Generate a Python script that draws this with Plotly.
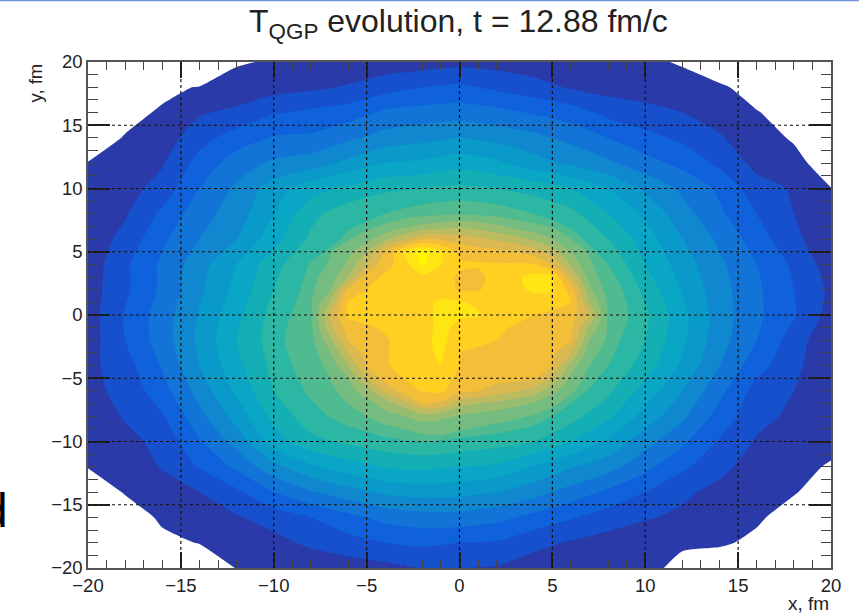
import plotly.graph_objects as go

x_fm = [-20,-18,-16,-14,-12,-10,-8,-6,-4,-2,0,2,4,6,8,10,12,14,16,18,20]
y_fm = [20,18,16,14,12,10,8,6,4,2,0,-2,-4,-6,-8,-10,-12,-14,-16,-18,-20]
# temperature band index; negative = no QGP (white)
t_qgp = [
[-3,-3,-3,-3,-.1,.1,.2,.3,.4,.5,.7,.6,.4,.3,.2,.1,-.05,-1.5,-3,-3,-3],
[-2.5,-1.7,-.4,.1,.4,.6,.8,1.1,1.6,2.0,2.2,1.8,1.4,.9,.6,.4,.2,.3,-.8,-2,-3],
[-1.6,-.5,.2,.9,1.2,1.9,2.2,2.5,3.2,3.4,3.5,3.3,2.9,2.5,1.7,1.4,1.0,.6,.1,-.8,-1.8],
[-.8,.1,.5,1.6,2.5,3.1,3.2,3.8,4.4,4.7,5.0,4.7,4.3,3.7,3.0,2.3,1.8,1.1,.4,-.1,-1.0],
[.05,.4,.9,2.4,3.5,4.2,4.5,5.3,6.0,6.2,6.6,6.2,5.4,4.8,4.2,3.4,2.7,1.8,.7,.3,-.5],
[.2,.6,1.4,3.0,4.2,5.5,6.6,7.2,7.8,8,8.2,8,7.6,7,6.0,4.8,3.8,2.8,1.4,.9,.02],
[.3,.9,2.2,3.6,4.5,6,7.7,8.6,9.0,9.6,9.9,9.6,9.0,8.3,7,5.8,4.4,3.2,2,1,.2],
[.4,1.3,2.8,4,5,6.6,8.2,9.2,11,12.5,12,11.5,10.8,9.5,8,6.5,5,3.8,2.5,1.2,.4],
[.4,1.8,3.2,4.6,6,7.6,9.1,10.6,12.8,16.5,15.3,15.2,14.7,12.2,9,7,5.5,4.2,3,1.8,.5],
[.5,1.8,3.2,4.8,6.3,8,9.4,12,14.7,15.4,15.5,15.4,16,14,9.8,7.7,5.9,4.4,3.2,2,.8],
[.5,2.1,3.5,5.1,6.7,8.4,9.7,13.5,14.9,15.5,16.5,15.5,15.3,13.5,10,8.2,6.3,4.5,3.2,2.1,.6],
[.5,2,3.5,5.2,7,8.5,10.2,12.7,14.7,15.7,15,14.8,14.5,12.5,9.5,8,6.2,4.4,3,1.5,.2],
[.7,1.6,3.1,5,6.7,8.3,9.7,11.5,14,15.3,14.6,14.4,14,11.2,9,7.5,5.8,4,2.4,1.3,.1],
[.7,1.3,2.6,4.4,6.2,8,9.2,10.8,12.3,14.9,13.2,13,12,9.6,8.2,6.6,5,3.3,1.6,1.0,.1],
[.3,1.1,1.9,3.7,5.4,7.3,8.6,9.5,10.7,11.7,10.8,10.3,9.6,8.4,7.2,5.6,4.2,2.6,1.3,.8,.1],
[.1,.7,1.3,2.9,4.4,6.5,7.7,8.2,8.6,9,8.7,8.4,8,7,5.8,4.4,3.2,1.9,.9,.4,.3],
[.05,.2,1.1,2.1,3.2,4.7,5.8,6.5,7.1,7.2,7,6.8,5.9,5.1,4.4,3.3,2.2,1.3,.5,.3,-.1],
[-.9,.1,.4,1.0,1.8,3,3.9,4.6,5.2,5.4,5.3,5,4.4,3.6,2.8,2,1.2,.7,.3,.1,-.7],
[-1.8,-.7,.2,.4,.9,1.4,2,2.7,3.3,3.6,3.6,3.3,2.7,2.1,1.5,1.1,.8,.3,.2,-.6,-1.6],
[-3,-1.8,-.3,.05,.3,.7,1.2,1.6,2,2.2,2.0,1.9,1.3,.9,.6,.3,.1,.2,-.3,-2,-3],
[-3,-3,-3,-1,.05,.1,.3,.5,.7,1.0,1.0,.9,.5,.3,.2,.2,-.2,-1,-3,-3,-3],
]
# finer reading of the hot core, 1 fm apart
x_core = [-8,-7,-6,-5,-4,-3,-2,-1,0,1,2,3,4,5,6,7,8]
y_core = [8,7,6,5,4,3,2,1,0,-1,-2,-3,-4,-5,-6,-7,-8,-9,-10]
t_core = [
[8.2,8.5,8.8,9.1,9.3,9.5,9.7,9.8,9.9,9.8,9.7,9.4,9.1,8.8,8.5,8,7.6],
[8.6,9,9.3,9.7,10.2,10.8,11.3,11.6,11.8,11.6,11.2,10.7,10.3,9.9,9.4,9,8.5],
[9,9.4,9.9,10.7,11.8,12.8,13.9,13.9,13.6,13.2,12.8,12.4,11.8,11,10,9.4,8.8],
[9.3,9.9,10.7,12,14.1,16.1,17.4,16.2,14.7,14.5,14.3,14,13.5,12.5,11,9.9,9],
[9.5,10.1,11.2,13,14.6,15.5,17.2,16,15.2,15.1,15.1,15.1,15.1,13.9,11.8,10.2,9.2],
[9.7,10.4,12,14.5,15.2,15.6,15.7,15.5,14.8,14.8,15.3,15.8,16.4,16.1,13.2,10.6,9.3],
[9.8,10.8,14.2,15,15.4,15.6,15.6,15.5,14.9,14.9,15.5,15.7,16.2,16.1,14.6,11.2,9.6],
[9.9,12,15.1,15.4,15.5,15.6,15.7,16.2,16.1,15.8,15.7,15.6,15.5,15.4,15,12,9.9],
[9.9,13,15.2,15.3,15.4,15.5,15.7,16.2,16.1,16.1,15.5,15.3,15,14.8,14.4,13,9.9],
[9.8,12.5,14.5,14.9,15.1,15.4,15.7,16.2,15.8,15.4,15.2,14.9,14.7,14.6,14.2,11.8,9.9],
[9.7,11.6,14,14.6,14.9,15.3,15.7,16.3,15.4,15.2,15,14.8,14.6,14.4,14.1,11,9.8],
[9.5,10.8,13,14.4,14.9,15.4,15.7,16.2,15,14.8,14.7,14.6,14.5,14.2,13,10.4,9.5],
[9.4,10.3,12,14,14.9,15.3,15.6,16.0,15,14.7,14.6,14.5,14.3,14,11.5,10,9.2],
[9.2,10,11,13,14.4,15,15.4,15.4,14.8,14.5,14.4,14.3,14.1,12.8,10.8,9.6,9],
[9,9.7,10.5,11.6,13.2,14.4,15.1,15.2,14.3,14,13.5,13.1,12.5,11.3,10.2,9.3,8.7],
[8.8,9.4,10,10.6,11.5,12.5,14,13.8,12.4,12,11.7,11.3,10.9,10.2,9.6,9,8.4],
[8.5,9,9.5,10,10.6,11,11.5,11.3,10.9,10.6,10.4,10.2,9.9,9.5,9,8.6,8.1],
[8.2,8.6,9,9.4,9.7,10,10.3,10.3,10.1,9.9,9.7,9.5,9.2,8.9,8.5,8.1,7.7],
[7.8,8.2,8.6,8.9,9.2,9.4,9.6,9.7,9.5,9.3,9.1,8.9,8.6,8.3,8,7.7,7.3],
]
band_colors = ["#2a3aa8","#1650cc","#0f62dc","#1174d6","#1088d0","#0a9ac9","#09a6c6","#14aeb5",
               "#2cb6a4","#50ba90","#74bc80","#98bd70","#bcbb62","#dcb850","#f4bf38","#ffd022",
               "#ffe514","#fff500"]
major_ticks = [-20,-15,-10,-5,0,5,10,15,20]
title_text = "T<sub>QGP</sub> evolution, t = 12.88 fm/c"

W, H = 859, 613
L, R, T, B = 88, 831, 62, 568
CORE_FROM = 10

def step_scale(below, colors):
    k = len(colors) + 1
    out = [[0, below], [1/k, below]]
    for i, c in enumerate(colors):
        out += [[(i+1)/k, c], [(i+2)/k, c]]
    return out

fig = go.Figure(go.Contour(
    x=x_fm, y=y_fm, z=t_qgp, colorscale=step_scale("#ffffff", band_colors[:CORE_FROM]),
    autocontour=False, contours=dict(start=0, end=CORE_FROM-1, size=1, coloring="fill", showlines=False),
    line=dict(width=0, smoothing=0.6), showscale=False, hoverinfo="skip"))

fig.add_trace(go.Contour(
    x=x_core, y=y_core, z=t_core, colorscale=step_scale("rgba(0,0,0,0)", band_colors[CORE_FROM:]),
    autocontour=False, contours=dict(start=CORE_FROM, end=len(band_colors)-1, size=1, coloring="fill", showlines=False),
    line=dict(width=0, smoothing=0.6), showscale=False, hoverinfo="skip"))

axis = dict(range=[-20,20], tickvals=major_ticks, showgrid=False, zeroline=False, showline=True,
            linecolor="#555555", linewidth=1.5, mirror="ticks", ticks="inside", tickcolor="#222222",
            tickwidth=1.5, minor=dict(dtick=1, ticks="inside", ticklen=8, tickcolor="#444444", tickwidth=1.2),
            tickfont=dict(family="Liberation Sans", size=18.5, color="#222222"), layer="above traces")
fig.update_xaxes(**axis, ticklen=16)
fig.update_yaxes(**axis, ticklen=22)
fig.update_yaxes(minor=dict(dtick=1, ticks="inside", ticklen=10, tickcolor="#444444", tickwidth=1.2))

# dotted grid on top of the map
for v in major_ticks[1:-1]:
    fig.add_shape(type="line", xref="x", yref="paper", x0=v, x1=v, y0=0, y1=1, layer="above",
                  line=dict(color="#111111", width=1.2, dash="dot"))
    fig.add_shape(type="line", xref="paper", yref="y", x0=0, x1=1, y0=v, y1=v, layer="above",
                  line=dict(color="#111111", width=1.2, dash="dot"))

px = lambda v: (v - L) / (R - L)
py = lambda v: (B - v) / (B - T)
# thin blue rule at the page top
fig.add_shape(type="line", xref="paper", yref="paper", x0=px(0), x1=px(W), y0=py(0.5), y1=py(0.5),
              line=dict(color="#6f96d8", width=1.5), layer="above")

fig.add_annotation(text=title_text, xref="paper", yref="paper", x=px(458), y=py(24), xanchor="center", yanchor="middle",
                   showarrow=False, font=dict(family="Liberation Sans", size=32, color="#222222"))
fig.add_annotation(text="x, fm", xref="paper", yref="paper", x=px(831), y=py(603), xanchor="right", yanchor="middle",
                   showarrow=False, font=dict(family="Liberation Sans", size=19, color="#222222"))
fig.add_annotation(text="y, fm", xref="paper", yref="paper", x=px(35), y=py(62), yanchor="top", xanchor="center",
                   textangle=-90, showarrow=False, font=dict(family="Liberation Sans", size=18.5, color="#222222"))
fig.add_annotation(text="d", xref="paper", yref="paper", x=px(10), y=py(510), xanchor="right", yanchor="middle",
                   showarrow=False, font=dict(family="Liberation Sans", size=48, color="#000000"))

fig.update_layout(width=W, height=H, margin=dict(l=L, r=W-R, t=T, b=H-B), paper_bgcolor="white",
                  plot_bgcolor="white", showlegend=False)
fig.write_html("out.html", post_script="document.body.style.margin='0';", config={"displayModeBar": False})
